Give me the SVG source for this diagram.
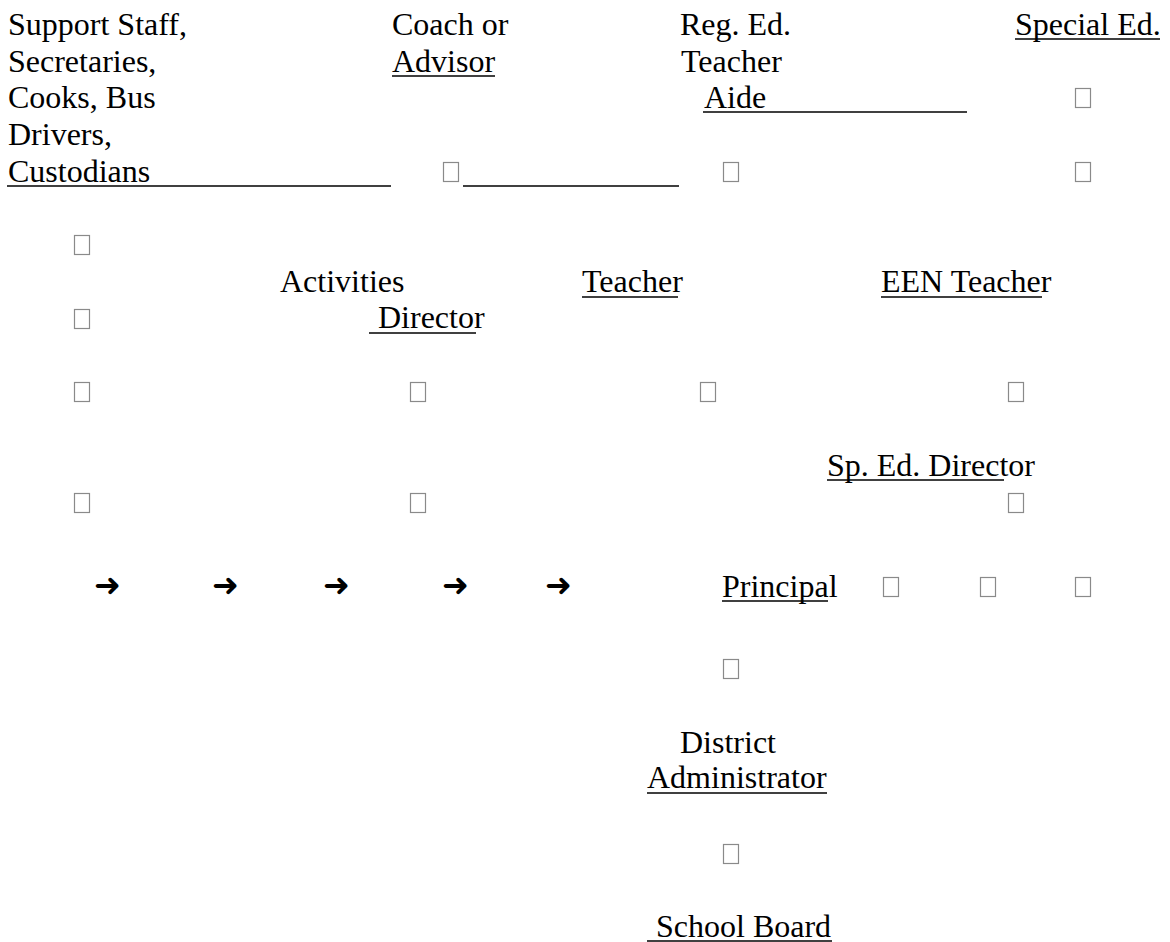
<svg xmlns="http://www.w3.org/2000/svg" width="1170" height="942" viewBox="0 0 1170 942">
<defs>
<rect id="box" width="15" height="19" fill="#fff" stroke="#8a8a8a" stroke-width="1.2"/>
</defs>
<rect width="1170" height="942" fill="#fff"/>
<g id="support-staff">
<text x="8" y="35" style="font-family:'Liberation Serif',serif !important;font-size:32px !important">Support Staff,</text>
<text x="8" y="72" style="font-family:'Liberation Serif',serif !important;font-size:32px !important">Secretaries,</text>
<text x="8" y="108" style="font-family:'Liberation Serif',serif !important;font-size:32px !important">Cooks, Bus</text>
<text x="8" y="145" style="font-family:'Liberation Serif',serif !important;font-size:32px !important">Drivers,</text>
<text x="8" y="182" style="font-family:'Liberation Serif',serif !important;font-size:32px !important">Custodians</text>
<line x1="7" y1="186" x2="391" y2="186" stroke="#000" stroke-width="1.5"/>
</g>
<g id="coach">
<text x="392" y="35" style="font-family:'Liberation Serif',serif !important;font-size:32px !important">Coach or</text>
<text x="392" y="72" style="font-family:'Liberation Serif',serif !important;font-size:32px !important">Advisor</text>
<line x1="392" y1="76" x2="495" y2="76" stroke="#000" stroke-width="1.5"/>
</g>
<g id="aide">
<text x="680" y="35" style="font-family:'Liberation Serif',serif !important;font-size:32px !important">Reg. Ed.</text>
<text x="681" y="72" style="font-family:'Liberation Serif',serif !important;font-size:32px !important">Teacher</text>
<text x="704" y="108" style="font-family:'Liberation Serif',serif !important;font-size:32px !important">Aide</text>
<line x1="703" y1="112" x2="967" y2="112" stroke="#000" stroke-width="1.5"/>
</g>
<g id="special-ed">
<text x="1015" y="35" style="font-family:'Liberation Serif',serif !important;font-size:32px !important">Special Ed.</text>
<line x1="1015" y1="39" x2="1160" y2="39" stroke="#000" stroke-width="1.5"/>
</g>
<g id="activities-director">
<text x="280" y="292" style="font-family:'Liberation Serif',serif !important;font-size:32px !important">Activities</text>
<text x="378" y="328" style="font-family:'Liberation Serif',serif !important;font-size:32px !important">Director</text>
<line x1="369" y1="333" x2="476" y2="333" stroke="#000" stroke-width="1.5"/>
</g>
<g id="teacher">
<text x="582" y="292" style="font-family:'Liberation Serif',serif !important;font-size:32px !important">Teacher</text>
<line x1="582" y1="297" x2="678" y2="297" stroke="#000" stroke-width="1.5"/>
</g>
<g id="een-teacher">
<text x="881" y="292" style="font-family:'Liberation Serif',serif !important;font-size:32px !important">EEN Teacher</text>
<line x1="881" y1="297" x2="1042" y2="297" stroke="#000" stroke-width="1.5"/>
</g>
<g id="sped-director">
<text x="827" y="476" style="font-family:'Liberation Serif',serif !important;font-size:32px !important">Sp. Ed. Director</text>
<line x1="827" y1="480" x2="1004" y2="480" stroke="#000" stroke-width="1.5"/>
</g>
<g id="principal">
<text x="722" y="597" style="font-family:'Liberation Serif',serif !important;font-size:32px !important">Principal</text>
<line x1="722" y1="601" x2="828" y2="601" stroke="#000" stroke-width="1.5"/>
</g>
<g id="district-administrator">
<text x="680" y="753" style="font-family:'Liberation Serif',serif !important;font-size:32px !important">District</text>
<text x="647" y="788" style="font-family:'Liberation Serif',serif !important;font-size:32px !important">Administrator</text>
<line x1="647" y1="793" x2="827" y2="793" stroke="#000" stroke-width="1.5"/>
</g>
<g id="school-board">
<text x="656" y="937" style="font-family:'Liberation Serif',serif !important;font-size:32px !important">School Board</text>
<line x1="647" y1="941" x2="832" y2="941" stroke="#000" stroke-width="1.5"/>
</g>
<g id="connectors">
<line x1="463" y1="186" x2="679" y2="186" stroke="#000" stroke-width="1.5"/>
<use href="#box" x="1075.5" y="88.5"/>
<use href="#box" x="443.5" y="162.5"/>
<use href="#box" x="723.5" y="162.5"/>
<use href="#box" x="1075.5" y="162.5"/>
<use href="#box" x="74.5" y="235.5"/>
<use href="#box" x="74.5" y="309.5"/>
<use href="#box" x="74.5" y="382.5"/>
<use href="#box" x="410.5" y="382.5"/>
<use href="#box" x="700.5" y="382.5"/>
<use href="#box" x="1008.5" y="382.5"/>
<use href="#box" x="74.5" y="493.5"/>
<use href="#box" x="410.5" y="493.5"/>
<use href="#box" x="1008.5" y="493.5"/>
<use href="#box" x="883.5" y="577.5"/>
<use href="#box" x="980.5" y="577.5"/>
<use href="#box" x="1075.5" y="577.5"/>
<use href="#box" x="723.5" y="659.5"/>
<use href="#box" x="723.5" y="844.5"/>
<text x="94" y="596" style="font-family:'DejaVu Sans',sans-serif !important;font-size:32px !important">➜</text>
<text x="212" y="596" style="font-family:'DejaVu Sans',sans-serif !important;font-size:32px !important">➜</text>
<text x="323" y="596" style="font-family:'DejaVu Sans',sans-serif !important;font-size:32px !important">➜</text>
<text x="442" y="596" style="font-family:'DejaVu Sans',sans-serif !important;font-size:32px !important">➜</text>
<text x="545" y="596" style="font-family:'DejaVu Sans',sans-serif !important;font-size:32px !important">➜</text>
</g>
</svg>
